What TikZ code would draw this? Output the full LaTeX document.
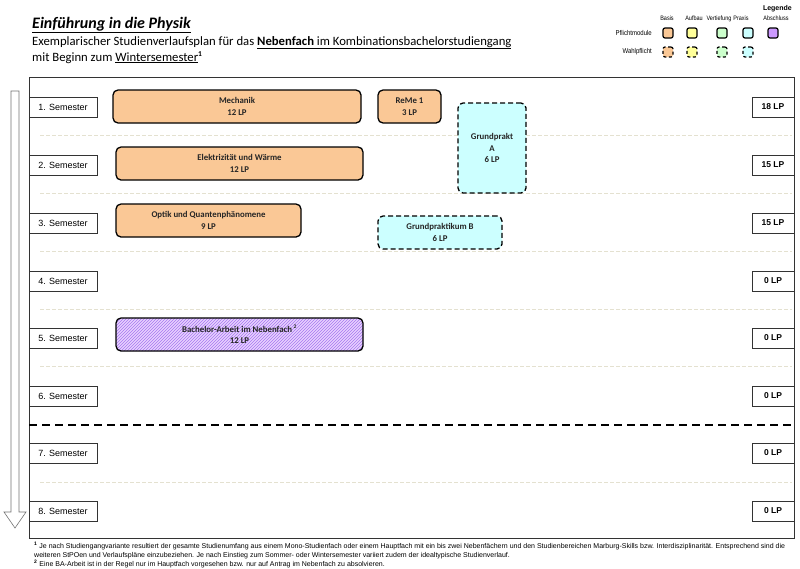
\documentclass[tikz,border=0pt]{standalone}
\usepackage{fontspec}
\setmainfont{Carlito}
\newfontfamily\arial{Liberation Sans}
\usetikzlibrary{patterns}
\definecolor{basis}{HTML}{FAC896}
\definecolor{aufbau}{HTML}{FFFF99}
\definecolor{vert}{HTML}{CCFFCC}
\definecolor{praxis}{HTML}{CCFFFF}
\definecolor{absch}{HTML}{CC99FF}
\definecolor{sepc}{HTML}{E4E1D0}
\definecolor{hatchc}{HTML}{A678F0}
\newcommand{\narrowtxt}[1]{\scalebox{0.86}[1]{#1}}
\tikzset{
  modbox/.style={draw=black, line width=1.3pt, rounded corners=5pt, align=center,
    font=\fontsize{8.8}{11.5}\selectfont\bfseries, text=black!85, inner sep=0pt},
  wmodbox/.style={modbox, dash pattern=on 5pt off 3pt},
  sembox/.style={draw=black!80, line width=0.8pt, fill=white, minimum width=68pt,
    minimum height=20pt, font=\arial\fontsize{9}{10}\selectfont, inner sep=0pt},
  lpbox/.style={draw=black!80, line width=0.8pt, fill=white, minimum width=42pt,
    minimum height=20pt, font=\arial\bfseries\fontsize{8.5}{9}\selectfont, inner sep=0pt},
  legsq/.style={draw=black, line width=1.2pt, rounded corners=2pt, minimum size=10pt, inner sep=0pt},
  wlegsq/.style={legsq, dash pattern=on 3pt off 2.5pt},
  legtxt/.style={font=\arial\fontsize{6.4}{7}\selectfont, inner sep=0pt},
  fntxt/.style={font=\arial\fontsize{7}{8}\selectfont, inner sep=0pt, anchor=base west},
  sepline/.style={draw=sepc, line width=0.8pt, dash pattern=on 4pt off 2pt},
}
\begin{document}
\begin{tikzpicture}[x=1pt,y=-1pt]
\useasboundingbox[fill=white] (0,0) rectangle (800,568);
% title
\node[anchor=base west, inner sep=0pt, font=\fontsize{16}{18}\selectfont\bfseries\itshape] (title) at (32,28) {\underline{Einführung in die Physik}};
\node[anchor=base west, inner sep=0pt, font=\fontsize{12.7}{14}\selectfont] (sub1) at (32,45) {Exemplarischer Studienverlaufsplan für das \underline{\textbf{Nebenfach} im Kombinationsbachelorstudiengang}};
\node[anchor=base west, inner sep=0pt, font=\fontsize{12.7}{14}\selectfont] (sub2) at (32,61) {mit Beginn zum \underline{Wintersemester}\textsuperscript{\bfseries\fontsize{7.5}{8}\selectfont 1}};
% legend
\node[anchor=base east, inner sep=0pt, font=\arial\bfseries\fontsize{7}{8}\selectfont] (legende) at (792,10) {Legende};
\node[legtxt, anchor=base] (lb1) at (667,20) {\narrowtxt{Basis}};
\node[legtxt, anchor=base] (lb2) at (694,20) {\narrowtxt{Aufbau}};
\node[legtxt, anchor=base] (lb3) at (719,20) {\narrowtxt{Vertiefung}};
\node[legtxt, anchor=base] (lb4) at (741,20) {\narrowtxt{Praxis}};
\node[legtxt, anchor=base] (lb5) at (776,20) {\narrowtxt{Abschluss}};
\node[legtxt, anchor=base east, font=\arial\fontsize{7}{8}\selectfont] (lpf) at (652,35) {\narrowtxt{Pflichtmodule}};
\node[legtxt, anchor=base east, font=\arial\fontsize{7}{8}\selectfont] (lwp) at (652,53) {\narrowtxt{Wahlpflicht}};
\node[legsq, fill=basis] (sq1) at (668,33) {};
\node[legsq, fill=aufbau] (sq2) at (692,33) {};
\node[legsq, fill=vert] (sq3) at (722,33) {};
\node[legsq, fill=praxis] (sq4) at (748,33) {};
\node[legsq, fill=absch] (sq5) at (773,33) {};
\node[wlegsq, fill=basis] (wq1) at (668,52) {};
\node[wlegsq, fill=aufbau] (wq2) at (692,52) {};
\node[wlegsq, fill=vert] (wq3) at (722,52) {};
\node[wlegsq, fill=praxis] (wq4) at (748,52) {};
% arrow
\draw[black!55, line width=0.6pt, fill=white] (11,91) -- (19,91) -- (19,512) -- (26,512) -- (15,528) -- (4,512) -- (11,512) -- cycle;
% frame
\draw[black!80, line width=0.9pt] (29,77) rectangle (794,538);
% separators
\foreach \yy in {135,193,251,309,366,482} \draw[sepline] (40,\yy) -- (792,\yy);
\draw[black, line width=1.6pt, dash pattern=on 8pt off 5pt] (29,425) -- (794,425);
% semesters
\foreach \i/\yy/\lp in {1/107/18,2/165/15,3/223/15,4/281/0,5/338/0,6/396/0,7/453/0,8/511/0}{
  \node[sembox] (sem\i) at (63,\yy) {\i. Semester};
  \node[lpbox] (lp\i) at (773,\yy) {\lp\ LP};
}
% modules
\node[modbox, fill=basis, minimum width=248pt, minimum height=33pt] (mech) at (237,106.5) {Mechanik\\12 LP};
\node[modbox, fill=basis, minimum width=63pt, minimum height=33pt] (reme) at (409.5,106.5) {ReMe 1\\3 LP};
\node[wmodbox, fill=praxis, minimum width=68pt, minimum height=90pt] (gpa) at (492,148) {Grundprakt\\A\\6 LP};
\node[modbox, fill=basis, minimum width=247pt, minimum height=33pt] (elek) at (239.5,163.5) {Elektrizität und Wärme\\12 LP};
\node[modbox, fill=basis, minimum width=185pt, minimum height=33pt] (optik) at (208.5,220.5) {Optik und Quantenphänomene\\9 LP};
\node[wmodbox, fill=praxis, minimum width=124pt, minimum height=33pt] (gpb) at (440,232.5) {Grundpraktikum B\\6 LP};
\node[modbox, preaction={fill=absch!45}, pattern=north east lines, pattern color=hatchc, minimum width=247pt, minimum height=33pt] (ba) at (239.5,334.5) {Bachelor-Arbeit im Nebenfach\,\textsuperscript{\fontsize{5.5}{6}\selectfont 2}\\12 LP};
% footnotes
\node[fntxt] (fn1) at (34,548.5) {\textsuperscript{\bfseries 1} Je nach Studiengangvariante resultiert der gesamte Studienumfang aus einem Mono-Studienfach oder einem Hauptfach mit ein bis zwei Nebenfächern und den Studienbereichen Marburg-Skills bzw. Interdisziplinarität. Entsprechend sind die};
\node[fntxt] (fn2) at (34,557.5) {weiteren StPOen und Verlaufspläne einzubeziehen. Je nach Einstieg zum Sommer- oder Wintersemester variiert zudem der idealtypische Studienverlauf.};
\node[fntxt] (fn3) at (34,566.5) {\textsuperscript{\bfseries 2} Eine BA-Arbeit ist in der Regel nur im Hauptfach vorgesehen bzw. nur auf Antrag im Nebenfach zu absolvieren.};
\end{tikzpicture}
\end{document}
